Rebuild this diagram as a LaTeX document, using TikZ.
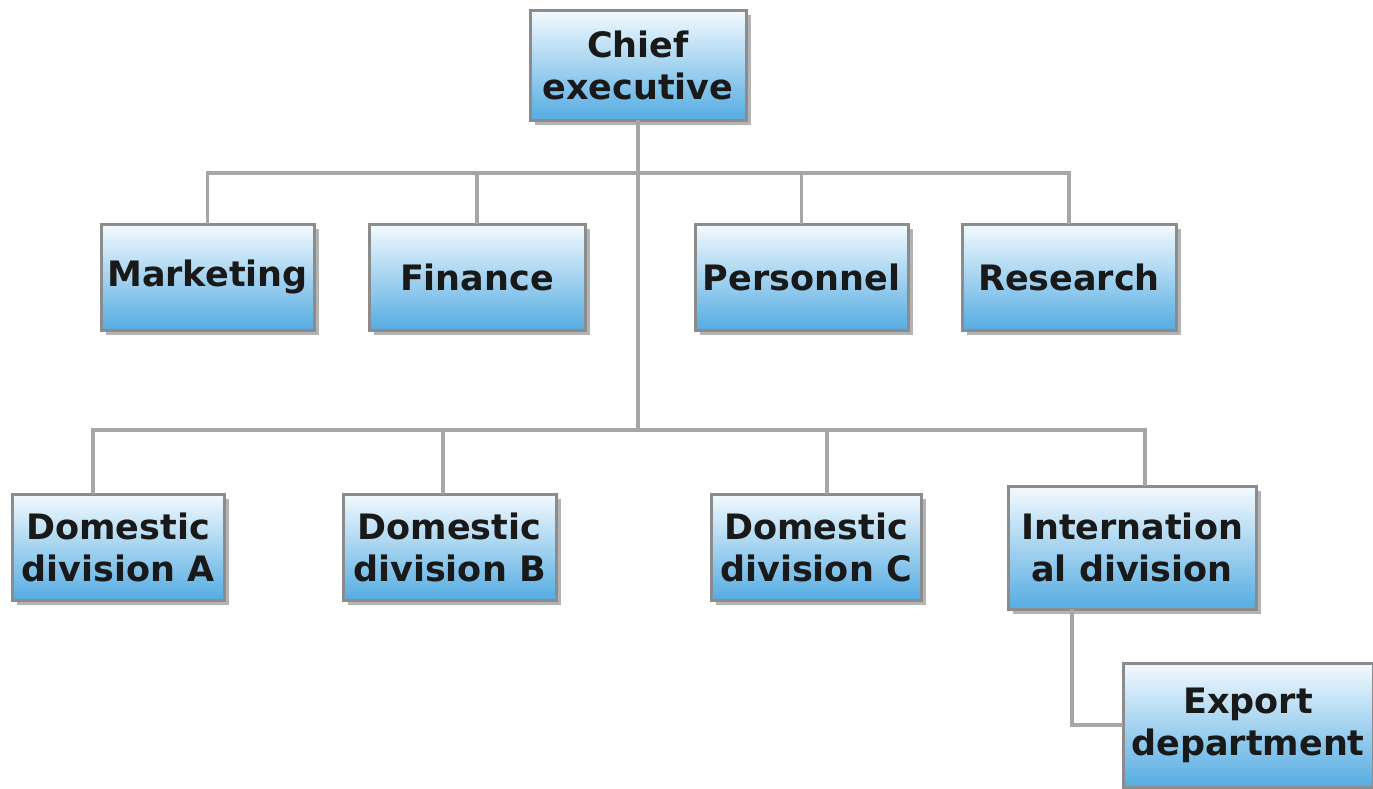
\documentclass[tikz,border=0pt]{standalone}
\usepackage{fontspec}
\setsansfont{DejaVu Sans}
\usetikzlibrary{shadows}
\definecolor{boxtop}{HTML}{F4FAFE}
\definecolor{boxbottom}{HTML}{55ACE2}
\begin{document}
\begin{tikzpicture}[
        x = 1pt, y = -1pt,
        font = \sffamily\bfseries\fontsize{35}{42}\selectfont,
        outer sep = 0mm, inner sep = 0mm,
        unit/.style = {
          rectangle, draw = gray!90, line width = 3pt,
          top color = boxtop, bottom color = boxbottom,
          text = black!90, align = center,
          minimum height = 106pt, minimum width = 213pt,
          drop shadow = {shadow xshift = 5pt, shadow yshift = -5pt,
            fill = gray, opacity = .6},
        },
        link/.style = {line width = 3.5pt, draw = gray!70},
      ]

      \useasboundingbox (0,0) rectangle (1373,788);

      % top level and staff departments
      \node[unit, minimum width = 216pt, minimum height = 110pt] (CE) at (638,65) {Chief\\executive};
      \node[unit] (M) at (207.5,277) {Marketing};
      \node[unit, minimum width = 216pt] (F) at (477,277) {Finance};
      \node[unit] (P) at (801.5,277) {Personnel};
      \node[unit, minimum width = 214pt] (R) at (1069,277) {Research};

      % divisions
      \node[unit, minimum width = 212pt] (A) at (118,547) {Domestic\\division A};
      \node[unit] (B) at (449.5,547) {Domestic\\division B};
      \node[unit, minimum width = 210pt] (C) at (816,547) {Domestic\\division C};
      \node[unit, minimum width = 248pt, minimum height = 123pt] (I) at (1132,547.5) {Internation\\al division};
      \node[unit, minimum width = 250pt, minimum height = 124pt] (E) at (1248,725) {Export\\department};

      \coordinate (staff bus) at (638,173);
      \coordinate (div bus) at (638,430);

      \draw[link] (CE.south) to (div bus);
      \draw[link] (staff bus) -| (M.north);
      \draw[link] (staff bus) -| (F.north);
      \draw[link] (staff bus) -| (P.north);
      \draw[link] (staff bus) -| (R.north);

      \draw[link] (div bus) -| ([xshift = -25pt]A.north);
      \draw[link] (div bus) -| ([xshift = -6.5pt]B.north);
      \draw[link] (div bus) -| ([xshift = 11pt]C.north);
      \draw[link] (div bus) -| ([xshift = 13pt]I.north);

      \draw[link] ([xshift = -60pt]I.south) |- (E.west);
    \end{tikzpicture}
\end{document}
